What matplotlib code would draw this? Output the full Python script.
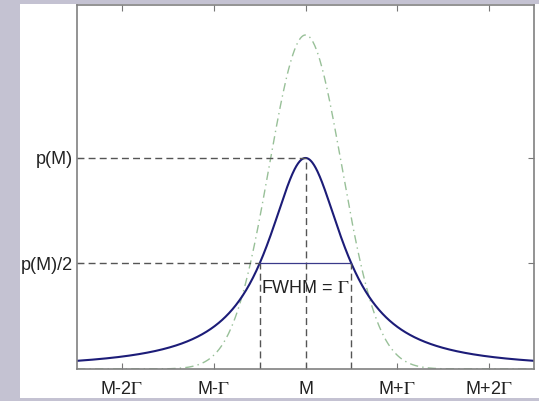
import numpy as np
import matplotlib
matplotlib.use("Agg")
import matplotlib.pyplot as plt
from matplotlib.patches import Rectangle

plt.rcParams['font.family'] = ['Liberation Sans', 'DejaVu Sans']
plt.rcParams['mathtext.fontset'] = 'stix'

# ---- data (in units of Gamma around M; peak p(M)=1) ----
x_ticks = [-2, -1, 0, 1, 2]
x_ticklabels = [r'M-2$\mathrm{\Gamma}$', r'M-$\mathrm{\Gamma}$', 'M',
                r'M+$\mathrm{\Gamma}$', r'M+2$\mathrm{\Gamma}$']
y_ticks = [0.5, 1.0]
y_ticklabels = ['p(M)/2', 'p(M)']
gamma = 1.0          # FWHM of Breit-Wigner
peak_bw = 1.0        # p(M)
peak_gauss = 1.583   # peak of comparison Gaussian (same area)
x_range = [-2.49, 2.49]
y_max = 1.725

x = np.linspace(x_range[0], x_range[1], 801)
bw = peak_bw / (1 + (2 * x / gamma) ** 2)
sigma = (np.pi * gamma / 2 * peak_bw) / (peak_gauss * np.sqrt(2 * np.pi))
gauss = peak_gauss * np.exp(-x ** 2 / (2 * sigma ** 2))

fig = plt.figure(figsize=(5.39, 4.01), dpi=100, facecolor='#c4c2d2')
bg = Rectangle((20 / 539, 3 / 401), 1 - 20 / 539, 1 - 7 / 401,
               transform=fig.transFigure, facecolor='white',
               edgecolor='none', zorder=-10)
fig.patches.append(bg)
ax = fig.add_axes([77 / 539, 1 - 369 / 401, (534 - 77) / 539, (369 - 5) / 401])
ax.set_zorder(5)
ax.set_facecolor('white')

dash_col = '#555555'
ax.plot(x, gauss, color='#98c098', lw=1.0, linestyle=(0, (6, 3, 1, 3)))
ax.plot(x, bw, color='#1c1c78', lw=1.5)

# guide lines
half = peak_bw / 2
ax.plot([x_range[0], 0], [peak_bw, peak_bw], color=dash_col, lw=1, ls=(0, (5, 3)))
ax.plot([x_range[0], -gamma / 2], [half, half], color=dash_col, lw=1, ls=(0, (5, 3)))
ax.plot([0, 0], [0, peak_bw], color=dash_col, lw=1, ls=(0, (5, 3)))
ax.plot([-gamma / 2, -gamma / 2], [0, half], color=dash_col, lw=1, ls=(0, (5, 3)))
ax.plot([gamma / 2, gamma / 2], [0, half], color=dash_col, lw=1, ls=(0, (5, 3)))
ax.plot([-gamma / 2, gamma / 2], [half, half], color='#3a3a8a', lw=0.9)
ax.text(-gamma / 2 + 0.02, 0.38, r'FWHM = $\mathrm{\Gamma}$', fontsize=13,
        color='#222222', va='center', ha='left')

ax.set_xlim(x_range)
ax.set_ylim(0, y_max)
ax.set_xticks(x_ticks)
ax.set_xticklabels(x_ticklabels, fontsize=13, color='#222222')
ax.set_yticks(y_ticks)
ax.set_yticklabels(y_ticklabels, fontsize=13, color='#222222')
ax.tick_params(direction='in', length=4, color='#777777', top=True, right=True)
ax.tick_params(axis='x', pad=9)
ax.tick_params(axis='y', pad=3)
for s in ax.spines.values():
    s.set_color('#808080')
    s.set_linewidth(1.2)

fig.savefig('out.png', dpi=100, facecolor=fig.get_facecolor())
